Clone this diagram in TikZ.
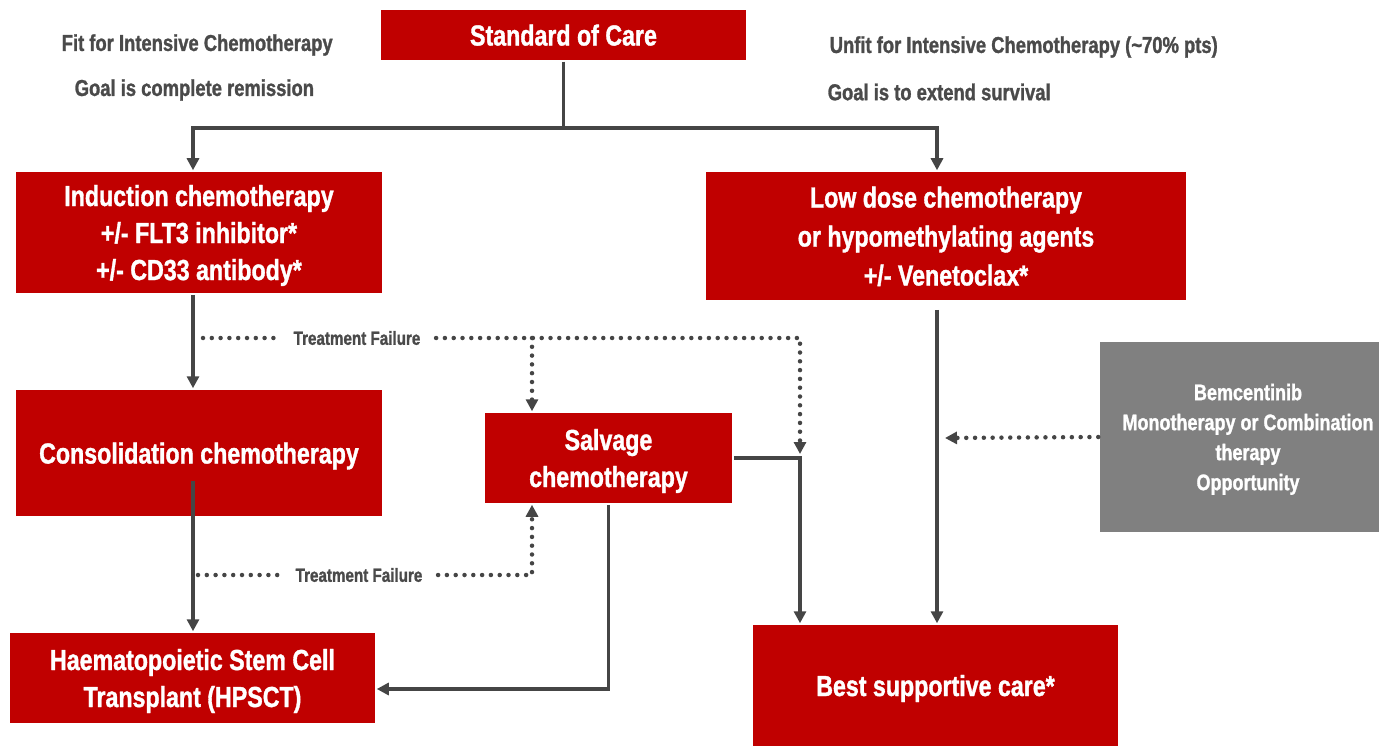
\documentclass[tikz,border=0pt]{standalone}
\usepackage{fontspec}
\setmainfont{Liberation Sans}[FakeStretch=0.8, BoldFeatures={FakeBold=1.2}]
\usetikzlibrary{arrows.meta}
\definecolor{carered}{HTML}{C00000}
\definecolor{linegray}{HTML}{454545}
\definecolor{boxgray}{HTML}{808080}
\definecolor{notegray}{HTML}{4A4A4A}

\begin{document}
\begin{tikzpicture}[x=1pt, y=-1pt, line width=3.5pt, >={Triangle[length=12pt,width=12pt]}]

	% Styles for boxes, notes and connectors
	\tikzset{
		redbox/.style={
			fill=carered, text=white, align=center, inner sep=0pt, text depth=0pt,
			font=\bfseries\fontsize{29}{37}\selectfont
		},
		graybox/.style={
			fill=boxgray, text=white, align=center, inner sep=0pt, text depth=0pt,
			font=\bfseries\fontsize{22.5}{30}\selectfont
		},
		note/.style={
			text=notegray, anchor=west, inner sep=0pt,
			font=\bfseries\fontsize{23}{26}\selectfont
		},
		faillabel/.style={
			text=notegray, inner sep=0pt,
			font=\bfseries\fontsize{19}{20}\selectfont
		},
		flow/.style={draw=linegray, ->},
		fail/.style={draw=linegray, line width=4.5pt, dash pattern=on 0pt off 8.8pt, line cap=round}
	}

	\useasboundingbox (0,0) rectangle (1379,746);

	% Top of the tree
	\node[redbox, minimum width=365pt, minimum height=50pt] (soc) at (563.5,35) {Standard of Care};
	\node[note] (fit)       at (60,45)  {Fit for Intensive Chemotherapy};
	\node[note] (goalfit)   at (73,90)  {Goal is complete remission};
	\node[note] (unfit)     at (828,47) {Unfit for Intensive Chemotherapy (\textasciitilde70\% pts)};
	\node[note] (goalunfit) at (826,92) {Goal is to extend survival};

	% Fit branch
	\node[redbox, minimum width=366pt, minimum height=121pt] (ind)  at (199,232.5) {Induction chemotherapy\\+/- FLT3 inhibitor*\\+/- CD33 antibody*};
	\node[redbox, minimum width=366pt, minimum height=126pt] (cons) at (199,453)   {Consolidation chemotherapy};
	\node[redbox, minimum width=365pt, minimum height=90pt]  (hsct) at (192.5,678) {Haematopoietic Stem Cell\\Transplant (HPSCT)};
	\node[redbox, minimum width=247pt, minimum height=90pt]  (salv) at (608.5,458) {Salvage\\chemotherapy};

	% Unfit branch
	\node[redbox, minimum width=480pt, minimum height=128pt, font=\bfseries\fontsize{29}{39}\selectfont] (low) at (946,236) {Low dose chemotherapy\\or hypomethylating agents\\+/- Venetoclax*};
	\node[redbox, minimum width=365pt, minimum height=121pt] (bsc)  at (935.5,685.5) {Best supportive care*};
	\node[graybox, minimum width=296pt, minimum height=190pt] (bem) at (1248,437) {Bemcentinib\\Monotherapy or Combination\\therapy\\Opportunity};

	% Split below standard of care
	\coordinate (split) at (563.5,128);
	\draw[draw=linegray] (soc.south) -- (split);
	\draw[flow] (split) -| ([xshift=-6pt]ind.north);
	\draw[flow] (split) -| ([xshift=-9pt]low.north);

	% Solid flow
	\draw[flow] ([xshift=-6pt]ind.south) -- ([xshift=-6pt]cons.north);
	\draw[flow] ([xshift=-6pt,yshift=37pt]cons.south) -- ([xshift=-6pt]cons.south |- hsct.north);
	\draw[flow] (salv.south) |- ([yshift=-11pt]hsct.east);
	\coordinate (sbend) at (800,458);
	\draw[flow] (salv.east) -- (sbend) -- (sbend |- bsc.north);
	\coordinate (lowline) at (937,438);
	\draw[flow] ([xshift=-9pt,yshift=-8pt]low.south) -- ([xshift=-9pt]low.south |- bsc.north);

	% Treatment failure after induction
	\node[faillabel] (tf1) at (357,338) {Treatment Failure};
	\coordinate (f1a) at (203,338);
	\coordinate (f1b) at (532,338);
	\coordinate (f1c) at (800,338);
	\draw[fail] (f1a) -- ([xshift=-12pt]tf1.west);
	\draw[fail, ->] ([xshift=14pt]tf1.east) -- (f1c) -- ([yshift=4pt]sbend);
	\draw[fail, ->] (f1b) -- (f1b |- salv.north);

	% Treatment failure after consolidation
	\node[faillabel] (tf2) at (359,575) {Treatment Failure};
	\coordinate (f2a) at (198,575);
	\coordinate (f2b) at (532,575);
	\draw[fail] (f2a) -- ([xshift=-12pt]tf2.west);
	\draw[fail, ->] ([xshift=14pt]tf2.east) -- (f2b) -- (f2b |- salv.south);

	% Bemcentinib opportunity
	\draw[fail, ->] (bem.west) -- ([xshift=8pt]lowline);

\end{tikzpicture}
\end{document}
